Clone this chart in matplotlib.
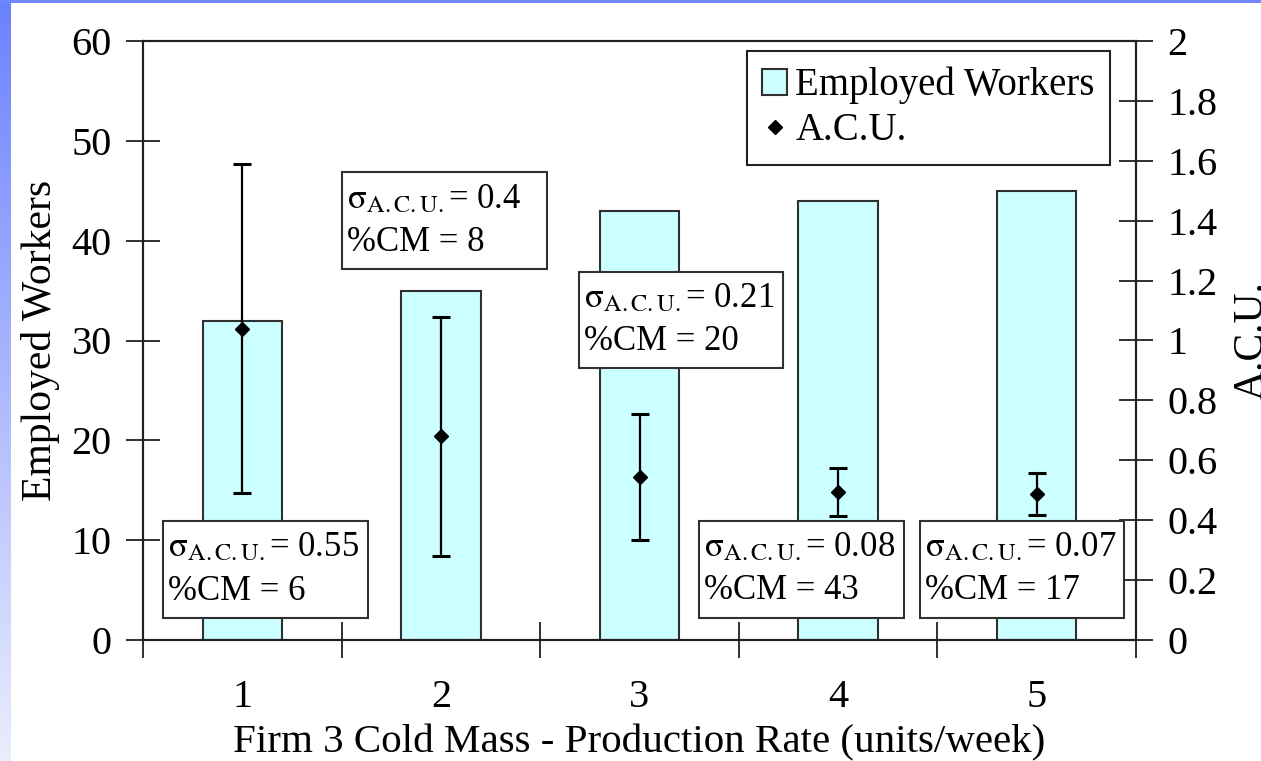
import numpy as np
import matplotlib
matplotlib.use("Agg")
import matplotlib.pyplot as plt
from matplotlib.patches import Rectangle
from matplotlib.ticker import FormatStrFormatter, MultipleLocator

plt.rcParams['font.family'] = ['Liberation Serif', 'DejaVu Serif']
plt.rcParams['mathtext.fontset'] = 'stix'

# production rates and results per rate
rates = [1, 2, 3, 4, 5]
workers = [32, 35, 43, 44, 45]
acu_mean = [1.04, 0.68, 0.545, 0.495, 0.487]
acu_sigma = [0.55, 0.4, 0.21, 0.08, 0.07]
pct_cm = [6, 8, 20, 43, 17]

# where each sigma / %CM box sits (x left edge, y centre on workers axis)
box_x = [0.601, 1.502, 2.695, 3.300, 4.412]
box_y = [7.05, 42.0, 32.05, 7.1, 7.1]
box_w, box_h = 1.03, 9.7

fig = plt.figure(figsize=(12.61, 7.61), dpi=100)
fig.patch.set_facecolor('white')

# slide background strips (left and top)
grad = np.linspace(0, 1, 256).reshape(-1, 1)
top_col = np.array([0.42, 0.51, 1.0])
bot_col = np.array([0.92, 0.93, 0.99])
strip = top_col + (bot_col - top_col) * grad
strip = strip.reshape(256, 1, 3)
sax = fig.add_axes([0, 0, 11 / 1261, 1])
sax.imshow(strip, aspect='auto', extent=[0, 1, 0, 1])
sax.axis('off')
tax = fig.add_axes([0, 758 / 761, 1, 3 / 761])
tax.set_facecolor((0.44, 0.53, 1.0))
tax.set_xticks([])
tax.set_yticks([])
for s in tax.spines.values():
    s.set_visible(False)

ax = fig.add_axes([143 / 1261, 121 / 761, 993 / 1261, 599 / 761])
ax2 = ax.twinx()

bars = ax.bar(rates, workers, width=0.4, color='#ccffff', edgecolor='#303030',
              linewidth=1.5, label='Employed Workers', zorder=2)

ax2.errorbar(rates, acu_mean, yerr=acu_sigma, fmt='none', ecolor='black',
             elinewidth=1.6, capsize=6.5, capthick=2.2, zorder=3)
pts, = ax2.plot(rates, acu_mean, 'D', color='black', markersize=7.5,
                label='A.C.U.', zorder=4)

ax.set_xlim(0.5, 5.5)
ax.set_ylim(0, 60)
ax2.set_ylim(0, 2)

ax.yaxis.set_major_locator(MultipleLocator(10))
ax2.yaxis.set_major_locator(MultipleLocator(0.2))
ax2.yaxis.set_major_formatter(FormatStrFormatter('%g'))

ax.set_xticks(rates)
ax.set_xticklabels([str(r) for r in rates])
ax.set_xticks(np.arange(0.5, 6.0, 1.0), minor=True)
ax.tick_params(axis='x', which='major', length=0, pad=28, labelsize=29)
ax.tick_params(axis='x', which='minor', direction='inout', length=26,
               width=1.3, color='#202020')
ax.tick_params(axis='y', direction='inout', length=25, width=1.3,
               color='#202020', pad=10, labelsize=29)
ax2.tick_params(axis='y', direction='inout', length=25, width=1.3,
                color='#202020', pad=10, labelsize=29)

for s in ax.spines.values():
    s.set_linewidth(1.5)
    s.set_color('#202020')
for s in ax2.spines.values():
    s.set_linewidth(1.5)
    s.set_color('#202020')

ax.set_xlabel('Firm 3 Cold Mass - Production Rate (units/week)', fontsize=29.5,
              labelpad=6)
ax.set_ylabel('Employed Workers', fontsize=30, labelpad=8)
ax2.set_ylabel('A.C.U.', fontsize=30, labelpad=11)

# sigma / %CM boxes, all the same size
for xl, yc, sg, cm in zip(box_x, box_y, acu_sigma, pct_cm):
    ax2.add_patch(Rectangle((xl, yc - box_h / 2), box_w, box_h,
                            transform=ax.transData, facecolor='white',
                            edgecolor='#303030', linewidth=1.5, zorder=5))
    txt = r'$\mathrm{\sigma}_{\mathrm{A.C.U.}}$' + '= %g\n%%CM = %d' % (sg, cm)
    ax2.text(xl + 0.025, yc, txt, transform=ax.transData, ha='left',
             va='center', fontsize=25, linespacing=1.4, zorder=6)

leg = ax2.legend([bars, pts], ['Employed Workers', 'A.C.U.'],
                 loc='upper right', bbox_to_anchor=(0.974, 0.983),
                 borderaxespad=0, fontsize=28, fancybox=False, framealpha=1,
                 edgecolor='#202020', handlelength=0.65, handleheight=0.65,
                 handletextpad=0.2, labelspacing=0.2, borderpad=0.4,
                 markerscale=0.9)
leg.get_frame().set_linewidth(1.5)
leg.set_zorder(7)

fig.savefig('out.png', dpi=100)
